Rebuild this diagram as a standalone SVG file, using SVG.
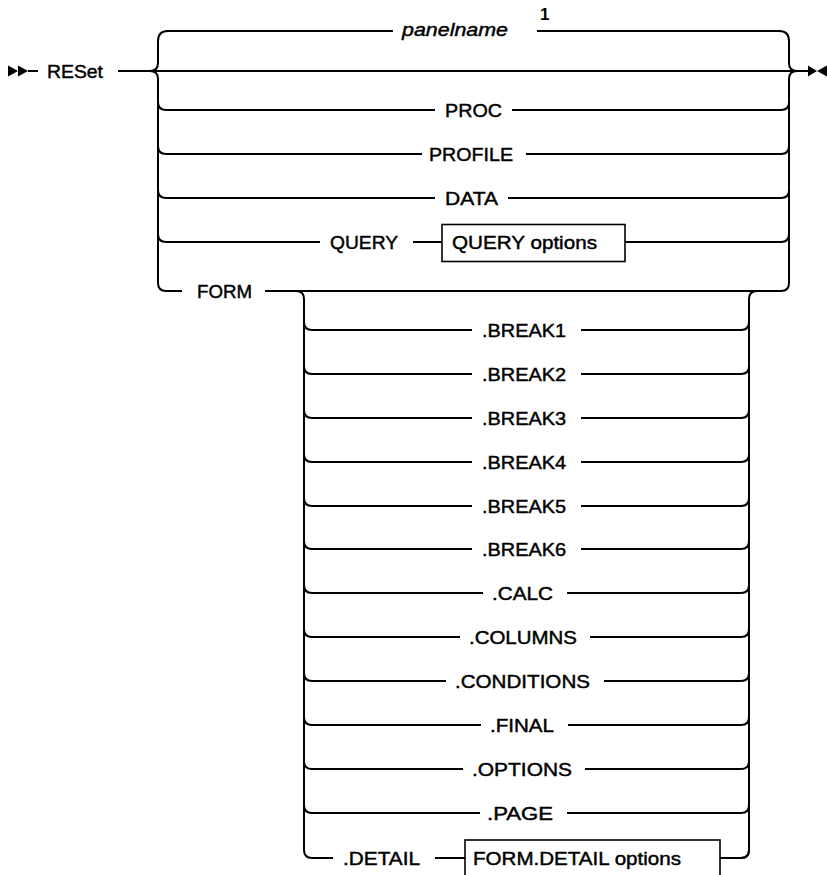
<svg xmlns="http://www.w3.org/2000/svg" width="827" height="875" viewBox="0 0 827 875">
<style>
.ln{fill:none;stroke:#000;stroke-width:2;stroke-linecap:butt}
.bx{fill:#fff;stroke:#000;stroke-width:1.6}
.t{font-family:"Liberation Sans",Arial,sans-serif;font-size:19px;fill:#000;stroke:#000;stroke-width:0.45}
.it{font-style:italic}
.sup{font-family:"Liberation Sans",Arial,sans-serif;font-size:17px;font-weight:bold;fill:#000}
.mk{fill:#000}
</style>
<rect width="827" height="875" fill="#fff"/>
<g id="connectors">
<polygon class="mk" points="8,65.5 18,71 8,76.5"/>
<polygon class="mk" points="18,65.5 28,71 18,76.5"/>
<path class="ln" d="M28 71H38"/>
<polygon class="mk" points="808,65.5 817,71 808,76.5"/>
<polygon class="mk" points="827,65.5 817,71 827,76.5"/>
<path class="ln" d="M118 71H808"/>
<path class="ln" d="M168 31Q158 31 158 41V63Q158 71 150 71"/>
<path class="ln" d="M150 71Q158 71 158 79V283Q158 291 166 291"/>
<path class="ln" d="M158 102Q158 110 166 110"/>
<path class="ln" d="M158 146Q158 154 166 154"/>
<path class="ln" d="M158 190Q158 198 166 198"/>
<path class="ln" d="M158 234Q158 242 166 242"/>
<path class="ln" d="M779 31Q789 31 789 41V63Q789 71 797 71"/>
<path class="ln" d="M797 71Q789 71 789 79V283Q789 291 781 291"/>
<path class="ln" d="M781 110Q789 110 789 102"/>
<path class="ln" d="M781 154Q789 154 789 146"/>
<path class="ln" d="M781 198Q789 198 789 190"/>
<path class="ln" d="M781 242Q789 242 789 234"/>
<path class="ln" d="M166 31H393M537 31H781"/>
<path class="ln" d="M166 110H435M512 110H781"/>
<path class="ln" d="M166 154H422M526 154H781"/>
<path class="ln" d="M166 198H435M508 198H781"/>
<path class="ln" d="M166 242H320M413 242H442M625 242H781"/>
<path class="ln" d="M166 291H182M265 291H781"/>
<path class="ln" d="M296 291Q304 291 304 299V850Q304 858 312 858"/>
<path class="ln" d="M757 291Q749 291 749 299V850Q749 858 741 858"/>
<path class="ln" d="M304 322Q304 330 312 330H472M581 330H741Q749 330 749 322"/>
<path class="ln" d="M304 366Q304 374 312 374H472M581 374H741Q749 374 749 366"/>
<path class="ln" d="M304 410Q304 418 312 418H472M581 418H741Q749 418 749 410"/>
<path class="ln" d="M304 454Q304 462 312 462H472M581 462H741Q749 462 749 454"/>
<path class="ln" d="M304 498Q304 506 312 506H472M581 506H741Q749 506 749 498"/>
<path class="ln" d="M304 541Q304 549 312 549H472M581 549H741Q749 549 749 541"/>
<path class="ln" d="M304 585Q304 593 312 593H483M567 593H741Q749 593 749 585"/>
<path class="ln" d="M304 629Q304 637 312 637H460M590 637H741Q749 637 749 629"/>
<path class="ln" d="M304 673Q304 681 312 681H446M604 681H741Q749 681 749 673"/>
<path class="ln" d="M304 717Q304 725 312 725H481M568 725H741Q749 725 749 717"/>
<path class="ln" d="M304 761Q304 769 312 769H463M585 769H741Q749 769 749 761"/>
<path class="ln" d="M304 805Q304 813 312 813H480M567 813H741Q749 813 749 805"/>
<path class="ln" d="M312 858H333M435 858H465M720 858H741Q749 858 749 850"/>
</g>
<g id="n-reset"><text class="t" x="47" y="78" textLength="56" lengthAdjust="spacingAndGlyphs">RESet</text></g>
<g id="n-panelname"><text class="t it" x="402" y="36" textLength="106" lengthAdjust="spacingAndGlyphs">panelname</text><text class="sup" x="540" y="20">1</text></g>
<g id="n-proc"><text class="t" x="445" y="117" textLength="57" lengthAdjust="spacingAndGlyphs">PROC</text></g>
<g id="n-profile"><text class="t" x="429" y="161" textLength="84" lengthAdjust="spacingAndGlyphs">PROFILE</text></g>
<g id="n-data"><text class="t" x="445" y="205" textLength="53" lengthAdjust="spacingAndGlyphs">DATA</text></g>
<g id="n-query"><text class="t" x="330" y="249" textLength="68" lengthAdjust="spacingAndGlyphs">QUERY</text></g>
<g id="n-query-options"><rect class="bx" x="442" y="224.5" width="183" height="37"/><text class="t" x="452" y="249" textLength="145" lengthAdjust="spacingAndGlyphs">QUERY options</text></g>
<g id="n-form"><text class="t" x="197" y="298" textLength="55" lengthAdjust="spacingAndGlyphs">FORM</text></g>
<g id="n-break1"><text class="t" x="482" y="337" textLength="84" lengthAdjust="spacingAndGlyphs">.BREAK1</text></g>
<g id="n-break2"><text class="t" x="482" y="381" textLength="84" lengthAdjust="spacingAndGlyphs">.BREAK2</text></g>
<g id="n-break3"><text class="t" x="482" y="425" textLength="84" lengthAdjust="spacingAndGlyphs">.BREAK3</text></g>
<g id="n-break4"><text class="t" x="482" y="469" textLength="84" lengthAdjust="spacingAndGlyphs">.BREAK4</text></g>
<g id="n-break5"><text class="t" x="482" y="513" textLength="84" lengthAdjust="spacingAndGlyphs">.BREAK5</text></g>
<g id="n-break6"><text class="t" x="482" y="556" textLength="84" lengthAdjust="spacingAndGlyphs">.BREAK6</text></g>
<g id="n-calc"><text class="t" x="492" y="600" textLength="61" lengthAdjust="spacingAndGlyphs">.CALC</text></g>
<g id="n-columns"><text class="t" x="469" y="644" textLength="108" lengthAdjust="spacingAndGlyphs">.COLUMNS</text></g>
<g id="n-conditions"><text class="t" x="455" y="688" textLength="135" lengthAdjust="spacingAndGlyphs">.CONDITIONS</text></g>
<g id="n-final"><text class="t" x="490" y="732" textLength="64" lengthAdjust="spacingAndGlyphs">.FINAL</text></g>
<g id="n-options"><text class="t" x="472" y="776" textLength="100" lengthAdjust="spacingAndGlyphs">.OPTIONS</text></g>
<g id="n-page"><text class="t" x="487" y="820" textLength="66" lengthAdjust="spacingAndGlyphs">.PAGE</text></g>
<g id="n-detail"><text class="t" x="343" y="865" textLength="77" lengthAdjust="spacingAndGlyphs">.DETAIL</text></g>
<g id="n-form-detail-options"><rect class="bx" x="465" y="840" width="255" height="36"/><text class="t" x="473" y="865" textLength="208" lengthAdjust="spacingAndGlyphs">FORM.DETAIL options</text></g>
</svg>
